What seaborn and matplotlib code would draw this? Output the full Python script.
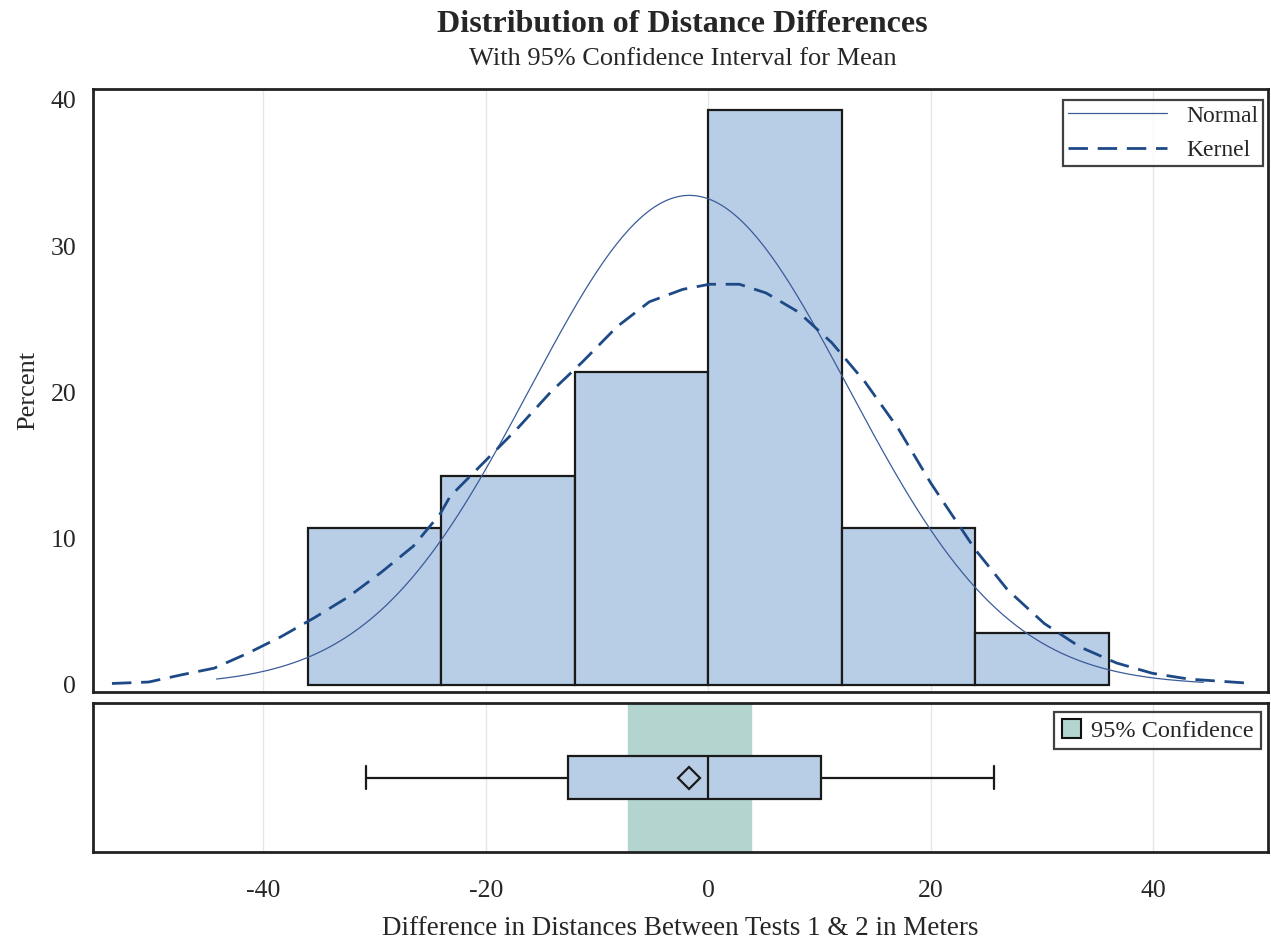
import numpy as np
import matplotlib
matplotlib.use("Agg")
import matplotlib.pyplot as plt
import matplotlib.patches as mpatches
import seaborn as sns

# histogram bins (meters) and percent of observations
bin_edges = [-36, -24, -12, 0, 12, 24, 36]
bin_pct = [10.71, 14.29, 21.43, 39.29, 10.71, 3.57]

# fitted normal curve parameters
norm_mean = -1.7
norm_sd = 14.3
norm_range = [-44.2, 44.5]

# kernel density curve (x, percent)
kernel_x = [-53.6, -50.3, -47.3, -44.4, -41.3, -38.4, -35.4, -32.4, -29.4, -26.5,
            -24.1, -23.2, -20.2, -17.2, -14.2, -11.3, -8.2, -5.3, -2.3, 0.1,
            2.8, 5.2, 8.1, 11.1, 14.1, 17.1, 20.0, 21.4, 24.0, 26.9,
            30.2, 33.4, 36.7, 39.9, 43.2, 48.6]
kernel_y = [0.1, 0.2, 0.7, 1.15, 2.2, 3.3, 4.6, 6.0, 7.7, 9.5,
            11.7, 12.9, 15.2, 17.5, 20.0, 22.1, 24.5, 26.2, 27.05, 27.4,
            27.4, 26.8, 25.5, 23.4, 20.7, 17.5, 13.8, 12.2, 9.25, 6.5,
            4.2, 2.6, 1.5, 0.8, 0.4, 0.12]

# box plot summary
box_stats = {"whislo": -30.8, "q1": -12.6, "med": 0.0, "q3": 10.1,
             "whishi": 25.7, "mean": -1.7}
ci_low, ci_high = -7.2, 3.8

x_ticks = [-40, -20, 0, 20, 40]
y_ticks = [0, 10, 20, 30, 40]

bar_color = "#b8cde6"
ci_color = "#b3d4cf"
normal_color = "#3b5c9a"
kernel_color = "#1d4a86"
frame_color = "#222222"
edge = "#1a1a1a"

sns.set_style("white")
plt.rcParams["font.family"] = ["Liberation Serif", "DejaVu Serif"]

fig = plt.figure(figsize=(12.71, 9.43), dpi=100)
ax = fig.add_axes([0.0732, 0.2662, 0.9244, 0.6394])
ax2 = fig.add_axes([0.0732, 0.0965, 0.9244, 0.158], sharex=ax)

# histogram
centers = [(bin_edges[i] + bin_edges[i + 1]) / 2 for i in range(len(bin_pct))]
sns.histplot(x=centers, weights=bin_pct, bins=bin_edges, ax=ax, color=bar_color,
             alpha=1, edgecolor=edge, linewidth=1.6, zorder=2)

# normal curve scaled to percent per bin
bw = bin_edges[1] - bin_edges[0]
nx = np.linspace(norm_range[0], norm_range[1], 300)
ny = 100 * bw / (norm_sd * np.sqrt(2 * np.pi)) * np.exp(-0.5 * ((nx - norm_mean) / norm_sd) ** 2)
sns.lineplot(x=nx, y=ny, ax=ax, color=normal_color, linewidth=0.9, label="Normal", zorder=3)
sns.lineplot(x=kernel_x, y=kernel_y, ax=ax, color=kernel_color, linewidth=2.0,
             label="Kernel", zorder=3)
ax.lines[-1].set_dashes([7, 3.5])

ax.set_xlim(-55.3, 50.3)
ax.set_ylim(-0.48, 40.75)
ax.set_yticks(y_ticks)
ax.set_yticklabels([str(t) for t in y_ticks], fontsize=18.5)
ax.set_ylabel("Percent", fontsize=19, labelpad=8)
ax.set_xlabel("")
ax.tick_params(axis="x", which="both", bottom=False, labelbottom=False)
ax.tick_params(axis="y", direction="out", length=7, width=1.5, color=frame_color, pad=5)
for t in x_ticks:
    ax.axvline(t, color="#e6e6e6", linewidth=1, zorder=0)

leg = ax.legend(loc="upper right", bbox_to_anchor=(0.999, 0.988), fontsize=17,
                frameon=True, fancybox=False, handlelength=4.2, borderaxespad=0.15,
                labelspacing=0.55, handletextpad=0.8, borderpad=0.22)
leg.get_frame().set_edgecolor("#111111")
leg.get_frame().set_linewidth(1.6)
leg._legend_box.align = "right"

# box plot panel
for t in x_ticks:
    ax2.axvline(t, color="#e6e6e6", linewidth=1, zorder=0)
ax2.axvspan(ci_low, ci_high, color=ci_color, zorder=0.5)
stats = dict(box_stats)
stats["fliers"] = []
ax2.bxp([stats], positions=[0], orientation="horizontal", widths=1.04, showmeans=True,
        patch_artist=True,
        boxprops=dict(facecolor=bar_color, edgecolor=edge, linewidth=1.6),
        medianprops=dict(color=edge, linewidth=1.6),
        whiskerprops=dict(color=edge, linewidth=1.6),
        capprops=dict(color=edge, linewidth=1.6),
        meanprops=dict(marker="D", markerfacecolor="none", markeredgecolor=edge,
                       markersize=11, markeredgewidth=1.6),
        capwidths=0.56)
ax2.set_ylim(-1.8, 1.8)
ax2.invert_yaxis()
ax2.set_yticks([])
ax2.set_xticks(x_ticks)
ax2.set_xticklabels([str(t) for t in x_ticks], fontsize=18.5)
ax2.tick_params(axis="x", direction="out", length=7, width=1.5, color=frame_color, pad=13)
ax2.set_xlabel("Difference in Distances Between Tests 1 & 2 in Meters", fontsize=19.5,
               labelpad=10)
ci_patch = mpatches.Patch(facecolor=ci_color, edgecolor="#111111", linewidth=1.5,
                          label="95% Confidence")
leg2 = ax2.legend(handles=[ci_patch], loc="upper right", bbox_to_anchor=(0.997, 0.965),
                  fontsize=17.5, frameon=True, fancybox=False, handlelength=0.8,
                  handleheight=0.8, borderaxespad=0.15, handletextpad=0.4, borderpad=0.3)
leg2.get_frame().set_edgecolor("#111111")
leg2.get_frame().set_linewidth(1.6)

for a in (ax, ax2):
    for sp in a.spines.values():
        sp.set_visible(True)
        sp.set_color(frame_color)
        sp.set_linewidth(2)

fig.text(0.537, 0.9735, "Distribution of Distance Differences", ha="center", va="center",
         fontsize=23, fontweight="bold")
fig.text(0.537, 0.9375, "With 95% Confidence Interval for Mean", ha="center", va="center",
         fontsize=19)

fig.savefig("out.png", dpi=100)
